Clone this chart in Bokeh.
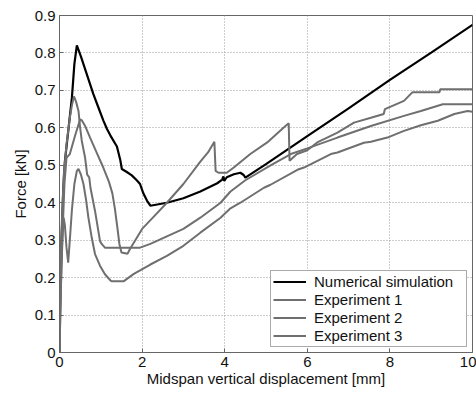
from bokeh.plotting import figure
from bokeh.models import Range1d, FixedTicker, NumeralTickFormatter, Legend, LegendItem
from bokeh.embed import file_html
from bokeh.resources import INLINE

# ---- data ----
x_num = [0, 0.01, 0.05, 0.09, 0.13, 0.21, 0.30, 0.36, 0.42, 0.46, 0.52, 0.58, 0.64, 0.70,
         0.76, 0.82, 0.94, 1.06, 1.15, 1.23, 1.39, 1.47, 1.51, 1.63, 1.75, 1.87, 1.95,
         2.03, 2.12, 2.20, 2.40, 2.60, 3.00, 3.41, 3.82, 3.94, 3.97, 3.99, 4.05, 4.22,
         4.38, 4.46, 4.50, 5.00, 6.00, 7.00, 8.00, 9.00, 10.0]
y_num = [0, 0.12, 0.30, 0.43, 0.51, 0.59, 0.68, 0.77, 0.82, 0.808, 0.79, 0.77, 0.75, 0.73,
         0.71, 0.69, 0.655, 0.62, 0.597, 0.58, 0.55, 0.515, 0.49, 0.482, 0.473, 0.46, 0.45,
         0.425, 0.405, 0.392, 0.396, 0.40, 0.412, 0.430, 0.452, 0.462, 0.470, 0.458, 0.468, 0.476,
         0.480, 0.474, 0.467, 0.503, 0.578, 0.652, 0.728, 0.801, 0.875]

x_exp1 = [0, 0.04, 0.10, 0.17, 0.25, 0.30, 0.35, 0.40, 0.46, 0.50, 0.54, 0.62, 0.67, 0.72,
          0.75, 0.86, 0.94, 0.98, 1.02, 1.10, 1.95, 2.20, 2.60, 3.00, 3.41, 3.90, 4.14,
          4.50, 5.11, 5.60, 6.00, 6.73, 7.54, 8.34, 8.75, 9.28, 10.0]
y_exp1 = [0, 0.30, 0.47, 0.556, 0.627, 0.66, 0.684, 0.67, 0.645, 0.60, 0.565, 0.52, 0.475, 0.468,
          0.44, 0.378, 0.325, 0.298, 0.29, 0.28, 0.28, 0.29, 0.31, 0.33, 0.36, 0.40, 0.43,
          0.46, 0.500, 0.530, 0.545, 0.574, 0.605, 0.632, 0.645, 0.663, 0.663]

x_exp2 = [0, 0.05, 0.12, 0.17, 0.21, 0.25, 0.38, 0.50, 0.54, 0.62, 0.74, 0.90, 1.06, 1.20,
          1.28, 1.34, 1.40, 1.45, 1.50, 1.65, 1.70, 2.00, 2.30, 2.60, 3.00, 3.41, 3.60, 3.75,
          3.78, 3.85, 4.05, 4.22, 4.62, 5.03, 5.43, 5.55, 5.57, 5.75, 6.00, 6.24, 6.48, 6.73,
          7.13, 7.54, 7.85, 7.88, 8.34, 8.50, 8.55, 9.20, 9.22, 10.0]
y_exp2 = [0, 0.25, 0.45, 0.52, 0.525, 0.53, 0.58, 0.623, 0.62, 0.605, 0.574, 0.534, 0.494, 0.455,
          0.425, 0.385, 0.335, 0.29, 0.267, 0.264, 0.275, 0.33, 0.365, 0.40, 0.45, 0.51, 0.535, 0.563,
          0.485, 0.48, 0.48, 0.494, 0.53, 0.561, 0.601, 0.612, 0.512, 0.53, 0.54, 0.561, 0.574, 0.587,
          0.614, 0.627, 0.637, 0.65, 0.672, 0.69, 0.695, 0.695, 0.703, 0.703]

x_exp3 = [0, 0.03, 0.07, 0.10, 0.13, 0.17, 0.21, 0.25, 0.30, 0.36, 0.42, 0.46, 0.52, 0.58,
          0.64, 0.70, 0.78, 0.86, 0.98, 1.10, 1.23, 1.26, 1.55, 1.80, 2.20, 2.60, 3.00, 3.41,
          3.90, 4.14, 4.38, 4.95, 5.11, 5.76, 5.92, 6.57, 6.73, 7.37, 7.54, 7.94, 8.34, 8.75,
          9.16, 9.56, 9.88, 10.0]
y_exp3 = [0, 0.16, 0.30, 0.36, 0.34, 0.28, 0.24, 0.30, 0.38, 0.45, 0.485, 0.49, 0.475, 0.45,
          0.41, 0.36, 0.307, 0.263, 0.232, 0.209, 0.193, 0.19, 0.19, 0.21, 0.235, 0.258, 0.285, 0.32,
          0.36, 0.385, 0.40, 0.44, 0.448, 0.488, 0.494, 0.53, 0.534, 0.56, 0.563, 0.574, 0.592, 0.607,
          0.619, 0.637, 0.645, 0.643]

x_ticks = [0, 2, 4, 6, 8, 10]
y_ticks = [0, 0.1, 0.2, 0.3, 0.4, 0.5, 0.6, 0.7, 0.8, 0.9]
series_labels = ["Numerical simulation", "Experiment 1", "Experiment 2", "Experiment 3"]
x_label = "Midspan vertical displacement [mm]"
y_label = "Force [kN]"

FONT = "Liberation Sans"
GREY = "#6f6f6f"

p = figure(width=476, height=393, output_backend="svg", toolbar_location=None,
           x_range=Range1d(0, 10), y_range=Range1d(0, 0.9),
           min_border_left=59, min_border_right=4, min_border_top=15, min_border_bottom=41)
p.background_fill_color = "white"
p.border_fill_color = "white"
p.outline_line_color = "#666666"
p.outline_line_width = 1

r_num = p.line(x_num, y_num, line_color="black", line_width=2.2)
r1 = p.line(x_exp1, y_exp1, line_color=GREY, line_width=2)
r2 = p.line(x_exp2, y_exp2, line_color=GREY, line_width=2)
r3 = p.line(x_exp3, y_exp3, line_color=GREY, line_width=2)

p.xaxis.ticker = FixedTicker(ticks=x_ticks)
p.yaxis.ticker = FixedTicker(ticks=y_ticks)
p.yaxis.formatter = NumeralTickFormatter(format="0.[0]")
p.xaxis.axis_label = x_label
p.yaxis.axis_label = y_label

for ax in (p.xaxis, p.yaxis):
    ax.axis_line_color = "#666666"
    ax.major_tick_line_color = "#666666"
    ax.major_tick_in = 4
    ax.major_tick_out = 0
    ax.minor_tick_line_color = None
    ax.major_label_text_font = FONT
    ax.major_label_text_font_size = "15px"
    ax.major_label_text_color = "#111111"
    ax.axis_label_text_font = FONT
    ax.axis_label_text_font_size = "15px"
    ax.axis_label_text_font_style = "normal"
    ax.axis_label_text_color = "#111111"
p.xaxis.major_label_standoff = 4
p.xaxis.axis_label_standoff = 0
p.yaxis.major_label_standoff = 4
p.yaxis.axis_label_standoff = 3

p.grid.grid_line_color = "#9a9a9a"
p.grid.grid_line_dash = "1 2"
p.grid.grid_line_width = 1

legend = Legend(items=[LegendItem(label=series_labels[0], renderers=[r_num]),
                       LegendItem(label=series_labels[1], renderers=[r1]),
                       LegendItem(label=series_labels[2], renderers=[r2]),
                       LegendItem(label=series_labels[3], renderers=[r3])],
                location="bottom_right", margin=5, padding=2, spacing=1,
                label_height=17, glyph_height=17, glyph_width=33, label_standoff=8,
                label_width=150, label_text_line_height=1.0,
                label_text_font=FONT, label_text_font_size="15px", label_text_color="#111111",
                border_line_color="#555555", border_line_width=1,
                background_fill_color="white", background_fill_alpha=1.0)
p.add_layout(legend)

open("out.html", "w").write(file_html(p, INLINE))
